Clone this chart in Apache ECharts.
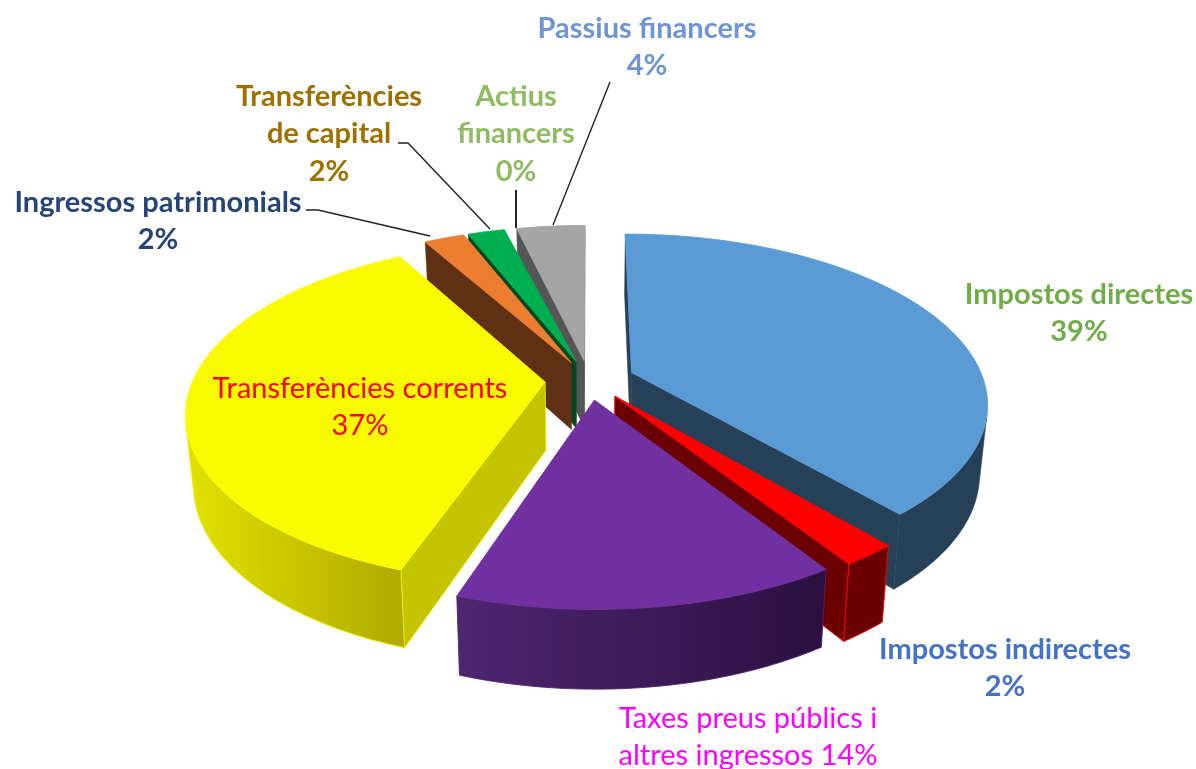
<!DOCTYPE html>
<html><head><meta charset="utf-8">
<style>html,body{margin:0;padding:0;background:#fff}#c{width:1196px;height:769px}</style>
<script src="https://cdn.jsdelivr.net/npm/echarts@6/dist/echarts.min.js"></script>
</head><body><div id="c"></div>
<script>
// Data
const categories = ['Impostos directes','Impostos indirectes','Taxes preus públics i altres ingressos','Transferències corrents','Ingressos patrimonials','Transferències de capital','Actius financers','Passius financers'];
const values = [38.7, 2.1, 14.4, 36.6, 2.2, 2, 0.3, 3.7];
// Styling
const topColors  = ['#5b9bd5','#ff0000','#7030a0','#fafa00','#ed7d31','#00b050','#a5a5a5','#a5a5a5'];
const sideColors = ['#264057','#6a0000','#2e1242','#c4c400','#5f3014','#00481f','#555555','#555555'];
const wallLeft   = ['#264057','#6a0000','#4f2570','#e2e200','#5f3014','#00481f','#555555','#555555'];
const wallRight  = ['#264057','#6a0000','#2a1040','#aeaa00','#5f3014','#00481f','#555555','#555555'];
const edgeColors = ['#264057','#ff0000','#4f2570','#eeee00','#5f3014','#00481f','#555555','#555555'];
const paintRank  = [3,4,5,6,2,1,0,0];
const labelText  = ['Impostos directes\n39%','Impostos indirectes\n2%','Taxes preus públics i\naltres ingressos 14%','Transferències corrents\n37%','Ingressos patrimonials\n2%','Transferències\nde capital\n2%','Actius\nfinancers\n0%','Passius financers\n4%'];
const labelColor = ['#70ad47','#4472c4','#ff00ff','#ff0000','#264478','#9e7000','#8fbc62','#6f94d6'];
const labelBold  = [1,1,0,0,1,1,1,1];
const labelPos   = [[1079,313],[1005,668],[748,737],[360,407],[158,221],[329,134],[516,134],[647,47]];
const leaders    = [null,null,null,null,[[306,210],[318,210],[430,236]],[[398,143],[408,143],[490,229]],[[516,190],[516,228]],[[610,82],[553,225]]];
const explode    = [0.13,0.12,0.12,0.125,0.12,0.12,0.12,0.12];
const HIDE_BELOW = 0.5;
const CX=589, CY=380, K=352, M=165, P=0.174, H=68, Q=0.02;

function project(X,Y,Z,){
  const s=1/(1-P*Y), s2=s*(1-Q*Z);
  return [CX+K*X*s2, CY+M*Y*s2+H*Z*s];
}
function area(pts){let a=0;for(let i=0;i<pts.length;i++){const p=pts[i],q=pts[(i+1)%pts.length];a+=p[0]*q[1]-q[0]*p[1];}return a;}
const total=values.reduce((a,b)=>a+b,0);
let acc=0;
const sliceAngles=values.map(v=>{const a=acc;acc+=v/total*Math.PI*2;return [a,acc];});

function renderItem(params,api){
  const i=api.value(0), children=[];
  const [t0,t1]=sliceAngles[i], r=paintRank[i]*10;
  if(values[i]>=HIDE_BELOW){
    const mid=(t0+t1)/2;
    const ox=explode[i]*Math.sin(mid), oy=-explode[i]*Math.cos(mid);
    const P3=(t,rad,z)=>project(ox+rad*Math.sin(t),oy-rad*Math.cos(t),z);
    const n=Math.max(2,Math.ceil((t1-t0)/(Math.PI/180)));
    const ang=[];for(let j=0;j<=n;j++)ang.push(t0+(t1-t0)*j/n);
    const push=(pts,fill,stroke,z)=>children.push({type:'polygon',shape:{points:pts},z2:r+z,
      style:{fill:fill,stroke:stroke,lineWidth:stroke===sideColors[i]?0.5:0.9,lineJoin:'round'}});
    const wA=[P3(t0,0,0),P3(t0,1,0),P3(t0,1,1),P3(t0,0,1)];
    const wB=[P3(t1,1,0),P3(t1,0,0),P3(t1,0,1),P3(t1,1,1)];
    if(area(wA)<0)push(wA,sideColors[i],i===1||i===3?edgeColors[i]:sideColors[i],1);
    if(area(wB)<0)push(wB,sideColors[i],i===1||i===3?edgeColors[i]:sideColors[i],1);
    let run=[];
    for(let j=0;j<n;j++){
      const q=[P3(ang[j],1,0),P3(ang[j+1],1,0),P3(ang[j+1],1,1),P3(ang[j],1,1)];
      if(area(q)<0)run.push(j);
    }
    if(run.length){
      const a=run[0],b=run[run.length-1]+1,pts=[];
      for(let j=a;j<=b;j++)pts.push(P3(ang[j],1,0));
      for(let j=b;j>=a;j--)pts.push(P3(ang[j],1,1));
      const fill=new echarts.graphic.LinearGradient(0,0,1,0,[{offset:0,color:wallLeft[i]},{offset:1,color:wallRight[i]}]);
      push(pts,fill,edgeColors[i],2);
    }
    const top=[P3(t0,0,0)];ang.forEach(t=>top.push(P3(t,1,0)));
    push(top,topColors[i],topColors[i],3);
  }
  if(leaders[i])children.push({type:'polyline',shape:{points:leaders[i]},z2:200,silent:true,
    style:{fill:null,stroke:'#222',lineWidth:i===6?2:1.4}});
  children.push({type:'text',z2:300,style:{x:labelPos[i][0],y:labelPos[i][1],text:labelText[i],
    fill:labelColor[i],font:(labelBold[i]?'bold ':'')+'29px Lato, "Open Sans", sans-serif',lineHeight:37.5,align:'center',verticalAlign:'middle'}});
  return {type:'group',children};
}
const chart=echarts.init(document.getElementById('c'),null,{renderer:'canvas'});
chart.setOption({animation:false,backgroundColor:'#fff',
  series:[{type:'custom',coordinateSystem:'none',renderItem,
    data:values.map((v,i)=>({name:categories[i],value:[i,v]})),encode:{value:1}}]});
</script></body></html>
